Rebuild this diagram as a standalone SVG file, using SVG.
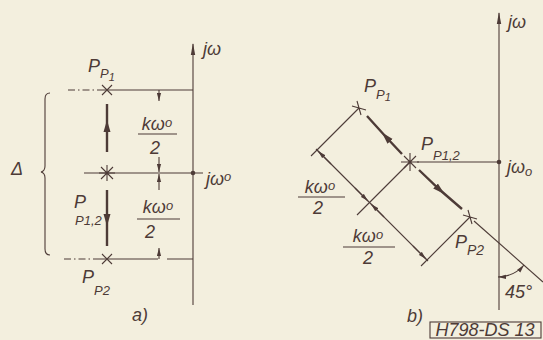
<svg xmlns="http://www.w3.org/2000/svg" width="543" height="340" viewBox="0 0 543 340">
<defs>
<style>
.ln{stroke:#4d3b37;stroke-width:1.1;fill:none}
.tk{stroke:#4d3b37;stroke-width:2.4;fill:none}
.dd{stroke:#4d3b37;stroke-width:1.1;fill:none;stroke-dasharray:7 3 1.5 3}
.t{font-family:"Liberation Sans",Arial,sans-serif;font-style:italic;fill:#4d3b37;font-size:18px}
.s{font-size:13px}
.dot{fill:#4d3b37}
</style>
<marker id="ax" markerWidth="12" markerHeight="6" refX="11" refY="3" orient="auto" markerUnits="userSpaceOnUse"><path d="M0,0.8 L12,3 L0,5.2 z" fill="#4d3b37"/></marker>
<marker id="dm" markerWidth="8" markerHeight="5" refX="8" refY="2.5" orient="auto-start-reverse" markerUnits="userSpaceOnUse"><path d="M0,0.4 L8,2.5 L0,4.6 z" fill="#4d3b37"/></marker>
<marker id="ta" markerWidth="12" markerHeight="8" refX="6" refY="4" orient="auto" markerUnits="userSpaceOnUse"><path d="M0,0.5 L12,4 L0,7.5 z" fill="#4d3b37"/></marker>
</defs>
<rect width="543" height="340" fill="#f3efde"/>

<g id="connectors">
<!-- diagram a -->
<path class="ln" d="M193,305 V44" marker-end="url(#ax)"/>
<path class="dd" d="M68,90 H100"/>
<path class="ln" d="M100,90 H193"/>
<path class="ln" d="M84,173 H203"/>
<path class="dd" d="M64,259 H98"/>
<path class="ln" d="M98,259 H158 M167,259 H193"/>
<path class="tk" d="M107,152 L107,126 L107,104" marker-mid="url(#ta)"/>
<path class="tk" d="M107,190 L107,220 L107,246" marker-mid="url(#ta)"/>
<path class="ln" d="M159,90 V101" marker-end="url(#dm)"/>
<path class="ln" d="M159,157 V172" marker-end="url(#dm)"/>
<path class="ln" d="M159,190 V174" marker-end="url(#dm)"/>
<path class="ln" d="M159,259 V248" marker-end="url(#dm)"/>
<path class="ln" d="M50,93 Q45,93 45,99 V166 Q45,171 41,172 Q45,173 45,178 V249 Q45,255 50,255"/>
<!-- diagram b -->
<path class="ln" d="M499,310 V13" marker-end="url(#ax)"/>
<path class="ln" d="M417,162 H499"/>
<path class="tk" d="M402,154 L386,137 L367,116" marker-mid="url(#ta)"/>
<path class="tk" d="M419,170 L440,190 L462,209" marker-mid="url(#ta)"/>
<path class="ln" d="M474,221 L543,282"/>
<path class="ln" d="M359,108 L311,156"/>
<path class="ln" d="M410,162 L357,215"/>
<path class="ln" d="M470,217 L421,266"/>
<path class="ln" d="M316,149 L428,261"/>
<path class="ln" d="M331,164 L318,151" marker-end="url(#dm)"/>
<path class="ln" d="M355,188 L368,201" marker-end="url(#dm)"/>
<path class="ln" d="M384,217 L371,204" marker-end="url(#dm)"/>
<path class="ln" d="M413,246 L426,259" marker-end="url(#dm)"/>
<path class="ln" d="M498,277 A35,35 0 0 0 524,265" marker-start="url(#dm)" marker-end="url(#dm)"/>
</g>

<g id="axis-a-labels">
<text class="t" x="203" y="55" font-size="20">jω</text>
<text class="t" x="206" y="185" font-size="19">jω<tspan class="s" dy="-4">o</tspan></text>
<circle class="dot" cx="193" cy="173" r="2.3"/>
</g>

<g id="pole-a-p1">
<path class="ln" d="M102,85 L112,95 M112,85 L102,95" stroke-width="1.6"/>
<text class="t" x="88" y="72">P<tspan class="s" dy="6">P</tspan><tspan font-size="11" dy="3">1</tspan></text>
</g>

<g id="pole-a-p12">
<path class="ln" d="M107,165 V181 M99,173 H115 M101,167 L113,179 M113,167 L101,179" stroke-width="1.6"/>
<text class="t" x="74" y="208">P</text>
<text class="t s" x="75" y="225">P1,2</text>
</g>

<g id="pole-a-p2">
<path class="ln" d="M102,254 L112,264 M112,254 L102,264" stroke-width="1.6"/>
<text class="t" x="82" y="283">P<tspan class="s" dy="12">P2</tspan></text>
</g>

<g id="dim-a">
<text class="t" x="157" y="130" text-anchor="middle">kω<tspan class="s" dy="-3">o</tspan></text>
<path class="ln" d="M138,134 H177"/>
<text class="t" x="155" y="154" text-anchor="middle">2</text>
<text class="t" x="158" y="213" text-anchor="middle">kω<tspan class="s" dy="-3">o</tspan></text>
<path class="ln" d="M137,219 H180"/>
<text class="t" x="150" y="238" text-anchor="middle">2</text>
<text class="t" x="11" y="175">Δ</text>
<text class="t" x="132" y="321">a)</text>
</g>

<g id="axis-b-labels">
<text class="t" x="508" y="28" font-size="20">jω</text>
<text class="t" x="507" y="173" font-size="20">jω<tspan class="s" dy="3">o</tspan></text>
<circle class="dot" cx="499" cy="162" r="2.3"/>
</g>

<g id="pole-b-p1">
<path class="ln" d="M352,106 L366,110 M357,101 L361,115" stroke-width="1.6"/>
<text class="t" x="364" y="92">P<tspan class="s" dy="7">P</tspan><tspan font-size="11" dy="2">1</tspan></text>
</g>

<g id="pole-b-p12">
<path class="ln" d="M410,153 V171 M401,162 H419 M404,156 L416,168 M416,156 L404,168" stroke-width="1.6"/>
<text class="t" x="421" y="150" font-size="19">P<tspan class="s" dy="10">P1,2</tspan></text>
</g>

<g id="pole-b-p2">
<path class="ln" d="M463,215 L477,219 M468,210 L472,224" stroke-width="1.6"/>
<text class="t" x="455" y="248">P<tspan font-size="14" dy="7">P2</tspan></text>
</g>

<g id="dim-b">
<text class="t" x="320" y="193" text-anchor="middle">kω<tspan class="s" dy="-3">o</tspan></text>
<path class="ln" d="M298,197 H345"/>
<text class="t" x="318" y="214" text-anchor="middle">2</text>
<text class="t" x="368" y="242" text-anchor="middle">kω<tspan class="s" dy="-3">o</tspan></text>
<path class="ln" d="M343,247 H395"/>
<text class="t" x="368" y="264" text-anchor="middle">2</text>
<text class="t" x="505" y="298" font-size="16">45°</text>
<text class="t" x="407" y="322" font-size="19">b)</text>
</g>

<g id="stamp">
<rect x="430" y="322" width="111" height="16" class="ln"/>
<text class="t" x="485" y="335.5" text-anchor="middle" font-size="13">H798-DS 13</text>
</g>
</svg>
